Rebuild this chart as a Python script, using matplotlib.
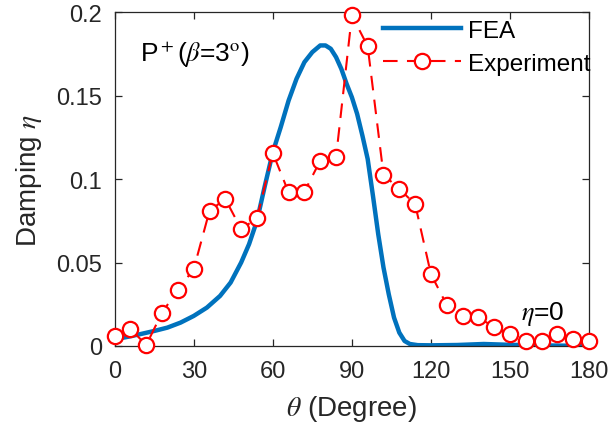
import matplotlib
matplotlib.use('Agg')
import matplotlib.pyplot as plt
from matplotlib.ticker import FixedLocator, FixedFormatter

plt.rcParams['font.family'] = ['Liberation Sans', 'DejaVu Sans']
plt.rcParams['mathtext.fontset'] = 'stix'

# FEA curve
fea_theta = [0, 5, 10, 15, 20, 25, 30, 35, 40, 44, 48, 51, 54, 57, 60, 63, 66,
             69, 72, 75, 78, 80, 82, 84, 86, 88, 90, 92, 94, 96, 98, 100, 102,
             104, 106, 108, 110, 112, 115, 120, 130, 140, 150, 160, 170, 180]
fea_eta = [0.004, 0.0055, 0.0072, 0.009, 0.011, 0.014, 0.018, 0.023, 0.030,
           0.038, 0.050, 0.061, 0.075, 0.096, 0.116, 0.131, 0.147, 0.160, 0.170,
           0.176, 0.180, 0.180, 0.178, 0.173, 0.166, 0.157, 0.149, 0.139, 0.126,
           0.112, 0.090, 0.067, 0.047, 0.031, 0.017, 0.008, 0.003, 0.0012, 0.0005,
           0.0004, 0.0006, 0.0012, 0.0007, 0.0004, 0.0002, 0.0002]

# experiment, every 6 degrees
exp_theta = list(range(0, 181, 6))
exp_eta = [0.0058, 0.0102, 0.0006, 0.020, 0.0337, 0.046, 0.081, 0.088, 0.070,
           0.0765, 0.1156, 0.092, 0.0924, 0.111, 0.113, 0.198, 0.1795, 0.1026,
           0.094, 0.085, 0.043, 0.0246, 0.018, 0.0172, 0.0112, 0.0072, 0.0032,
           0.0032, 0.0072, 0.0042, 0.0032]

xticks = [0, 30, 60, 90, 120, 150, 180]
yticks = [0, 0.05, 0.1, 0.15, 0.2]
yticklabels = ['0', '0.05', '0.1', '0.15', '0.2']

fig = plt.figure(figsize=(6.13, 4.35), dpi=100)
ax = fig.add_axes([0.187, 0.2023, 0.774, 0.7677])

ax.plot(fea_theta, fea_eta, color='#0072BD', lw=3.2, label='FEA')
ax.plot(exp_theta, exp_eta, color='red', ls=(0, (7, 4.5)), lw=1.5, marker='o',
        markersize=11, markerfacecolor='white', markeredgecolor='red',
        markeredgewidth=1.6, clip_on=False, label='Experiment', zorder=3)

ax.set_xlim(0, 180)
ax.set_ylim(0, 0.2)
ax.xaxis.set_major_locator(FixedLocator(xticks))
ax.yaxis.set_major_locator(FixedLocator(yticks))
ax.yaxis.set_major_formatter(FixedFormatter(yticklabels))
ax.tick_params(direction='in', length=5, width=0.9, labelsize=17,
               top=True, right=True, colors='#262626')
ax.tick_params(axis='x', pad=10)
ax.tick_params(axis='y', pad=9)
for s in ax.spines.values():
    s.set_linewidth(0.9)
    s.set_color('#262626')

ax.set_xlabel(r'$\theta$ (Degree)', fontsize=20, color='#262626', labelpad=8)
ax.set_ylabel(r'Damping $\eta$', fontsize=20, color='#262626', labelpad=9)

ax.text(0.053, 0.853, r'P$^+$($\beta$=3$^{\rm o}$)', transform=ax.transAxes,
        fontsize=19, va='baseline', ha='left')
ax.text(0.857, 0.081, r'$\eta$=0', transform=ax.transAxes, fontsize=19,
        va='baseline', ha='left')

ax.legend(loc='upper right', bbox_to_anchor=(1.013, 0.991), frameon=False,
          fontsize=17.5, handlelength=3.2, handletextpad=0.3, labelspacing=0.44,
          borderaxespad=0.0, borderpad=0.2)

fig.savefig('out.png', dpi=100)
